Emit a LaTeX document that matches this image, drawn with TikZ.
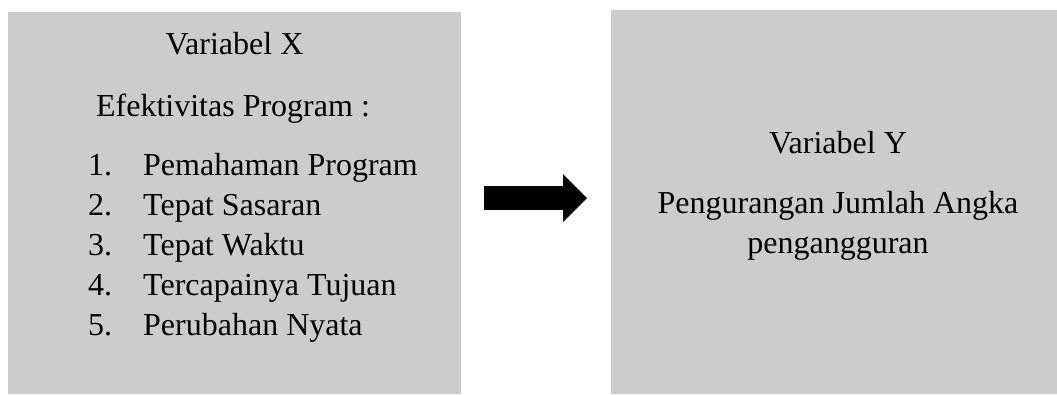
\documentclass[tikz,border=0pt]{standalone}
\usepackage{fontspec}
\setmainfont{Liberation Serif}
\usetikzlibrary{arrows.meta}
\definecolor{boxgray}{HTML}{CCCCCC}
\tikzset{
varbox/.style={fill=boxgray, draw=none, anchor=south west, inner sep=0pt},
txt/.style={anchor=base, inner sep=0pt, font=\fontsize{32}{40}\selectfont},
txtl/.style={txt, anchor=base west},
bigarrow/.style={line width=23.3pt, -{Triangle[length=24pt,width=46.7pt]}}
}
\begin{document}
\begin{tikzpicture}[x=1pt,y=1pt]
\useasboundingbox (0,0) rectangle (1057,394);
\node [varbox, minimum width=453pt, minimum height=382pt] (boxX) at (8,0) {};
\node [varbox, minimum width=446pt, minimum height=384pt] (boxY) at (611,0) {};
\node [txt] (titleX) at (234.5,339) {Variabel X};
\node [txt] (subX) at (233,277.3) {Efektivitas Program :};
\foreach \item [count=\i] in {Pemahaman Program,Tepat Sasaran,Tepat Waktu,Tercapainya Tujuan,Perubahan Nyata}{
\node [txtl] (num\i) at (88,218-39.75*\i+39.75) {\i.};
\node [txtl] (item\i) at (143,218-39.75*\i+39.75) {\item};
}
\node [txt] (titleY) at (838,240.7) {Variabel Y};
\node [txt] (subY) at (838,180.7) {Pengurangan Jumlah Angka};
\node [txt] (subY2) at (838,140.7) {pengangguran};
% panah
\draw [bigarrow, shorten <=23pt, shorten >=24pt] ([yshift=4.7pt]boxX.east) -- ([yshift=3.7pt]boxY.west);
\end{tikzpicture}
\end{document}
